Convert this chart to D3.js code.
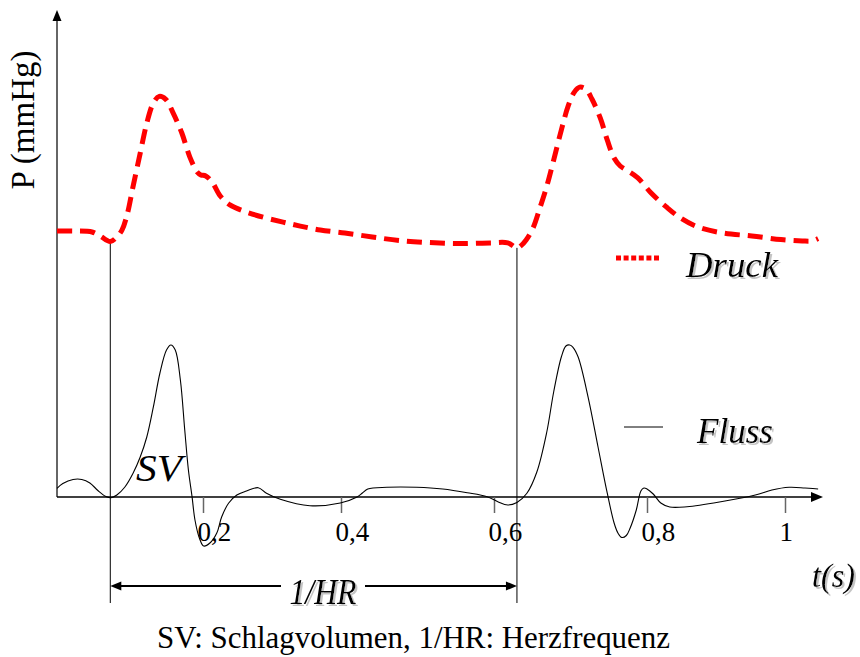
<!DOCTYPE html>
<html>
<head>
<meta charset="utf-8">
<script src="https://cdn.jsdelivr.net/npm/d3@7"></script>
<style>
  html, body { margin: 0; padding: 0; background: #fff; }
  svg { display: block; }
  text { font-family: "Liberation Serif", "Times New Roman", serif; fill: #000; }
</style>
</head>
<body>
<svg id="chart" width="860" height="657"></svg>
<script>
// Aortic pressure (mmHg) over time (s)
const pressureT = [0.000, 0.025, 0.048, 0.059, 0.073, 0.082, 0.089, 0.096, 0.104, 0.114,
  0.123, 0.132, 0.140, 0.149, 0.159, 0.171, 0.182, 0.192, 0.197, 0.204,
  0.213, 0.225, 0.239, 0.258, 0.287, 0.316, 0.341, 0.370, 0.405, 0.441,
  0.477, 0.516, 0.556, 0.595, 0.618, 0.630, 0.635, 0.642, 0.651, 0.660,
  0.669, 0.678, 0.688, 0.697, 0.705, 0.712, 0.720, 0.728, 0.739, 0.748,
  0.757, 0.765, 0.775, 0.788, 0.806, 0.828, 0.849, 0.874, 0.910, 0.952,
  0.994, 1.025, 1.039, 1.048];
const pressureMmHg = [80.6, 80.6, 80.3, 79.1, 77.4, 78.8, 80.9, 85.5, 93.9, 104.2,
  113.3, 119.4, 121.4, 120.5, 116.4, 110.3, 103.0, 98.5, 97.6, 97.3,
  95.5, 91.2, 88.5, 86.7, 84.8, 83.3, 82.1, 80.9, 80.0, 78.8,
  77.7, 77.1, 76.8, 77.0, 77.0, 75.5, 76.1, 77.9, 81.5, 87.6,
  94.2, 102.1, 111.2, 118.5, 122.7, 124.2, 123.6, 120.6, 114.8, 108.2,
  102.7, 100.3, 98.8, 96.7, 92.1, 87.9, 84.5, 81.8, 80.0, 79.1,
  78.0, 77.6, 77.6, 78.3];

// Aortic flow (ml/s) over time (s)
const flowT = [0.000, 0.008, 0.022, 0.034, 0.045, 0.056, 0.067, 0.074, 0.082, 0.093,
  0.104, 0.114, 0.123, 0.132, 0.141, 0.150, 0.156, 0.162, 0.169, 0.175,
  0.180, 0.185, 0.189, 0.195, 0.201, 0.210, 0.220, 0.227, 0.237, 0.249,
  0.263, 0.280, 0.292, 0.312, 0.355, 0.399, 0.421, 0.428, 0.435, 0.460,
  0.499, 0.533, 0.565, 0.591, 0.605, 0.618, 0.630, 0.643, 0.656, 0.669,
  0.678, 0.688, 0.694, 0.699, 0.703, 0.710, 0.723, 0.736, 0.748, 0.757,
  0.762, 0.767, 0.773, 0.778, 0.786, 0.792, 0.796, 0.800, 0.809, 0.820,
  0.833, 0.858, 0.907, 0.957, 0.981, 1.006, 1.029, 1.048];
const flowMlS = [28.6, 44.4, 57.6, 57.6, 46.1, 21.4, 1.6, -2.3, 6.6, 32.9,
  77.3, 131.6, 197.4, 296.1, 407.9, 483.6, 500.0, 483.6, 384.9, 220.4,
  88.8, 1.0, -75.7, -134.9, -161.2, -151.3, -118.4, -65.8, -20.7, 6.6,
  19.7, 30.6, 12.2, -7.6, -28.6, -19.7, 0.0, 13.2, 26.3, 31.9,
  31.9, 26.3, 14.1, 1.0, -15.5, -26.3, -18.1, 12.2, 82.2, 213.8,
  345.4, 460.5, 496.7, 500.0, 493.4, 460.5, 328.9, 164.5, 13.2, -85.5,
  -118.4, -133.2, -126.6, -102.0, -42.8, 19.7, 29.6, 26.3, 9.9, -19.7,
  -32.9, -31.9, -15.5, 6.6, 23.0, 31.9, 29.6, 26.3];

// Time axis ticks
const tickValues = [0.2, 0.4, 0.6, 0.8, 1];
const tickLabels = ["0,2", "0,4", "0,6", "0,8", "1"];

// One heart cycle (end-diastole to end-diastole)
const cycleStart = 0.073;
const cycleEnd = 0.630;

const pressureData = pressureT.map((t, i) => ({ t, v: pressureMmHg[i] }));
const flowData = flowT.map((t, i) => ({ t, v: flowMlS[i] }));

const svg = d3.select("#chart");

// Soft grey drop shadow for the italic labels
const shadow = svg.append("defs").append("filter")
  .attr("id", "shadow").attr("x", "-10%").attr("y", "-20%")
  .attr("width", "130%").attr("height", "150%");
shadow.append("feOffset").attr("in", "SourceAlpha").attr("dx", 2).attr("dy", 2).attr("result", "off");
shadow.append("feFlood").attr("flood-color", "#c4c4c4").attr("result", "col");
shadow.append("feComposite").attr("in", "col").attr("in2", "off").attr("operator", "in").attr("result", "sh");
const merge = shadow.append("feMerge");
merge.append("feMergeNode").attr("in", "sh");
merge.append("feMergeNode").attr("in", "SourceGraphic");

// Hand-spaced time axis: piecewise linear between the labelled ticks
const x = d3.scaleLinear()
  .domain([0, 0.2, 0.4, 0.6, 0.8, 1])
  .range([57, 203, 341, 494, 647, 785]);
const yP = d3.scaleLinear().domain([0, 120]).range([497, 101]);
const yF = d3.scaleLinear().domain([0, 500]).range([497, 345]);

const x0 = x(0), yBase = yF(0);
const xEnd = 823, yTop = 10;

// Y axis with arrow
svg.append("line")
  .attr("x1", x0).attr("x2", x0).attr("y1", yBase).attr("y2", yTop + 8)
  .attr("stroke", "#333").attr("stroke-width", 1.5);
svg.append("path")
  .attr("d", `M${x0},${yTop} L${x0 - 4.5},${yTop + 11} L${x0 + 4.5},${yTop + 11} Z`)
  .attr("fill", "#000");

// X axis with arrow
svg.append("line")
  .attr("x1", x0).attr("x2", xEnd - 8).attr("y1", yBase).attr("y2", yBase)
  .attr("stroke", "#000").attr("stroke-width", 1.5);
svg.append("path")
  .attr("d", `M${xEnd},${yBase} L${xEnd - 12},${yBase - 5} L${xEnd - 12},${yBase + 5} Z`)
  .attr("fill", "#000");

// Ticks and labels
const xAxis = d3.axisBottom(x)
  .tickValues(tickValues)
  .tickFormat((d, i) => tickLabels[i])
  .tickSize(16)
  .tickSizeOuter(0);
const gx = svg.append("g").attr("transform", `translate(0,${yBase})`).call(xAxis);
gx.select(".domain").remove();
gx.selectAll(".tick line").attr("stroke", "#666").attr("stroke-width", 1.5);
gx.selectAll(".tick text")
  .attr("y", 44).attr("dy", null).attr("x", -6)
  .attr("text-anchor", "start")
  .style("font-family", "'Liberation Serif', 'Times New Roman', serif")
  .style("font-size", "27px")
  .attr("fill", "#000");

// Cycle markers
function pressureAt(t) {
  const i = d3.bisector(d => d.t).left(pressureData, t);
  if (i <= 0) return pressureData[0].v;
  if (i >= pressureData.length) return pressureData[pressureData.length - 1].v;
  const a = pressureData[i - 1], b = pressureData[i];
  return a.v + (b.v - a.v) * (t - a.t) / (b.t - a.t);
}
const markerBottom = 603;
[cycleStart, cycleEnd].forEach(t => {
  svg.append("line")
    .attr("x1", x(t)).attr("x2", x(t))
    .attr("y1", yP(pressureAt(t))).attr("y2", markerBottom)
    .attr("stroke", "#000").attr("stroke-width", 1);
});

// Curves
const line = (yScale) => d3.line()
  .x(d => x(d.t)).y(d => yScale(d.v))
  .curve(d3.curveCatmullRom.alpha(0.5));

svg.append("path")
  .datum(flowData)
  .attr("d", line(yF))
  .attr("fill", "none")
  .attr("stroke", "#000")
  .attr("stroke-width", 1.1);

svg.append("path")
  .datum(pressureData)
  .attr("d", line(yP))
  .attr("fill", "none")
  .attr("stroke", "#ff0000")
  .attr("stroke-width", 5)
  .attr("stroke-dasharray", "15,8");

// Italic label with drop shadow
function shadowText(px, py, str, size, opts = {}) {
  const t = svg.append("text")
    .attr("x", px).attr("y", py)
    .attr("text-anchor", opts.anchor || "start")
    .attr("filter", "url(#shadow)")
    .style("font-size", size + "px")
    .style("font-style", "italic")
    .text(str);
  if (opts.width) t.attr("textLength", opts.width).attr("lengthAdjust", "spacingAndGlyphs");
  return t;
}

// Legend
svg.append("line")
  .attr("x1", 616).attr("x2", 659).attr("y1", 258).attr("y2", 258)
  .attr("stroke", "#ff0000").attr("stroke-width", 5)
  .attr("stroke-dasharray", "5,2.6");
shadowText(686, 277, "Druck", 36, { width: 92 });

svg.append("line")
  .attr("x1", 624).attr("x2", 663).attr("y1", 427).attr("y2", 427)
  .attr("stroke", "#000").attr("stroke-width", 1);
shadowText(697, 443, "Fluss", 36, { width: 76 });

// Stroke volume label
svg.append("text")
  .attr("x", 136).attr("y", 481)
  .style("font-size", "38px").style("font-style", "italic")
  .attr("textLength", 46).attr("lengthAdjust", "spacingAndGlyphs")
  .text("SV");

// Axis titles
svg.append("text")
  .attr("transform", "translate(34,120) rotate(-90)")
  .attr("text-anchor", "middle")
  .style("font-size", "33px")
  .text("P (mmHg)");
shadowText(812, 587, "t(s)", 34, { width: 43 });

// Cycle length arrow (1/HR)
const ay = 586;
const ax1 = x(cycleStart), ax2 = x(cycleEnd);
const labelCx = 323, gap = 42;
svg.append("line").attr("x1", ax1 + 8).attr("x2", labelCx - gap).attr("y1", ay).attr("y2", ay)
  .attr("stroke", "#000").attr("stroke-width", 2);
svg.append("line").attr("x1", labelCx + gap).attr("x2", ax2 - 8).attr("y1", ay).attr("y2", ay)
  .attr("stroke", "#000").attr("stroke-width", 2);
svg.append("path")
  .attr("d", `M${ax1},${ay} L${ax1 + 11},${ay - 4.5} L${ax1 + 11},${ay + 4.5} Z`).attr("fill", "#000");
svg.append("path")
  .attr("d", `M${ax2},${ay} L${ax2 - 11},${ay - 4.5} L${ax2 - 11},${ay + 4.5} Z`).attr("fill", "#000");
shadowText(labelCx, 604, "1/HR", 36, { anchor: "middle", width: 67 });

// Caption
svg.append("text")
  .attr("x", 157).attr("y", 648)
  .style("font-size", "32px")
  .attr("textLength", 513).attr("lengthAdjust", "spacingAndGlyphs")
  .text("SV: Schlagvolumen, 1/HR: Herzfrequenz");
</script>
</body>
</html>
